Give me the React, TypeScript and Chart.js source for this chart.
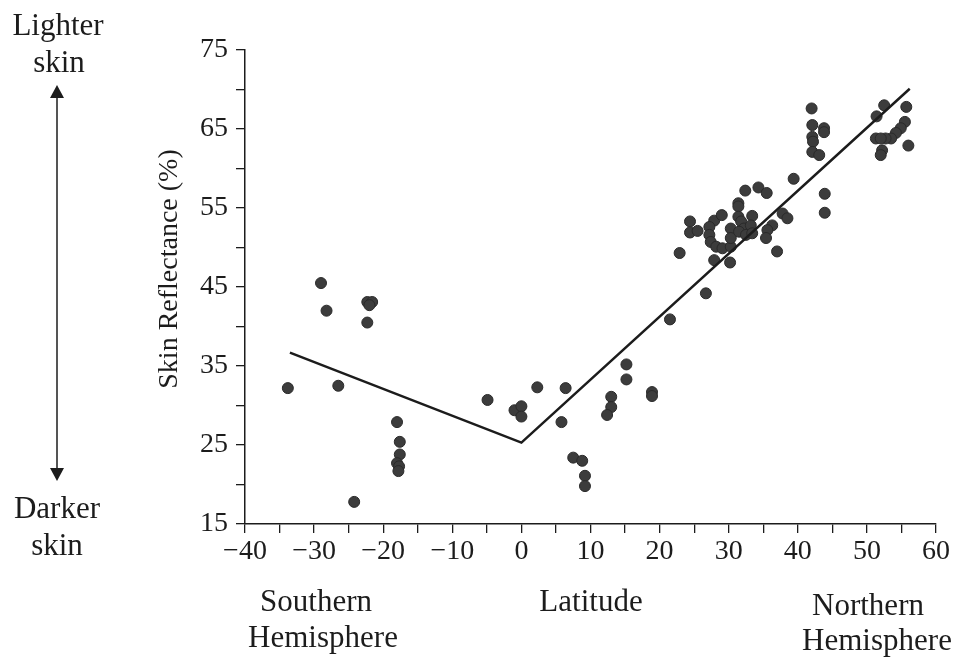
import { useEffect, useRef } from "react";
import { Chart, registerables } from "chart.js";

Chart.register(...registerables);

// Observed populations: latitude (degrees, negative = south) and skin reflectance (%)
const latitudes = [
  -29.0, -28.2, -22.3, -21.6, -22.0, -22.3, -33.8, -26.5, -18.0, -17.6,
  -17.6, -18.0, -17.7, -17.8, -24.2,
  -4.9, -1.0, 0.0, 0.0, 2.3, 6.4, 5.8, 7.5, 8.8, 9.2, 9.2, 15.2, 15.2,
  13.0, 13.0, 12.4, 18.9, 18.9,
  21.5, 26.7, 22.9, 24.4, 24.4, 25.5, 27.9, 27.2, 27.2, 27.4, 28.2, 29.1,
  30.3, 27.9, 30.2, 29.0, 31.4, 31.4, 31.4, 33.4, 32.4, 34.3, 35.5, 39.4,
  30.3, 30.3, 31.8, 32.2, 33.2, 31.5, 32.5, 33.4, 37.8, 38.5, 36.3, 35.6,
  35.4, 37.0,
  42.0, 42.1, 43.8, 43.8, 42.1, 42.2, 42.1, 43.1, 43.9, 43.9,
  52.5, 51.4, 55.7, 55.5, 54.9, 54.2, 53.5, 52.7, 51.3, 52.0, 52.2, 52.0,
  56.0,
];
const reflectance = [
  45.5, 42.0, 43.1, 43.1, 42.7, 40.5, 32.2, 32.5, 27.9, 25.4,
  23.8, 22.7, 22.3, 21.7, 17.8,
  30.7, 29.4, 29.9, 28.6, 32.3, 32.2, 27.9, 23.4, 23.0, 21.1, 19.8, 35.2, 33.3,
  31.1, 29.8, 28.8, 31.7, 31.2,
  40.9, 44.2, 49.3, 53.3, 51.9, 52.1, 53.4, 52.6, 51.6, 50.7, 50.1, 49.9,
  50.1, 48.4, 48.1, 54.1, 55.6, 55.2, 53.9, 54.0, 57.2, 57.6, 56.9, 58.7,
  52.4, 51.2, 53.3, 52.4, 52.8, 52.0, 51.6, 51.8, 54.3, 53.7, 52.8, 52.2,
  51.2, 49.5,
  67.6, 65.5, 65.1, 64.6, 64.0, 63.4, 62.1, 61.7, 56.8, 54.4,
  68.0, 66.6, 67.8, 65.9, 65.1, 64.5, 63.8, 63.8, 63.8, 63.8, 62.3, 61.7,
  62.9,
];

// Two-segment fitted trend (south branch, north branch meeting at the equator)
const fitLatitudes = [-33.5, 0, 56.2];
const fitReflectance = [36.7, 25.3, 70.1];

const xTickLabels = [-40, -30, -20, -10, 0, 10, 20, 30, 40, 50, 60];
const yTickLabels = [15, 25, 35, 45, 55, 65, 75];

const INK = "#1c1c1c";
const FONT = '"Liberation Serif", "Times New Roman", serif';

const fmtSigned = (v: number) => (v < 0 ? "\u2212" + Math.abs(v) : String(v));

const sideText = {
  id: "sideText",
  afterDraw(chart: any) {
    const ctx = chart.ctx as CanvasRenderingContext2D;
    const area = chart.chartArea;
    ctx.save();
    ctx.fillStyle = INK;
    ctx.strokeStyle = INK;
    ctx.textAlign = "center";
    ctx.textBaseline = "middle";

    // Y axis title
    ctx.font = `28px ${FONT}`;
    ctx.save();
    ctx.translate(170, 269);
    ctx.rotate(-Math.PI / 2);
    ctx.fillText("Skin Reflectance (%)", 0, 0);
    ctx.restore();

    // Left legend: lighter / darker with double arrow
    ctx.font = `31px ${FONT}`;
    ctx.fillText("Lighter", 58, 27);
    ctx.fillText("skin", 59, 64);
    ctx.fillText("Darker", 57, 510);
    ctx.fillText("skin", 57, 547);

    const ax = 57;
    const topTip = 85;
    const botTip = 481;
    ctx.lineWidth = 1.5;
    ctx.beginPath();
    ctx.moveTo(ax, topTip + 10);
    ctx.lineTo(ax, botTip - 10);
    ctx.stroke();
    ctx.beginPath();
    ctx.moveTo(ax, topTip);
    ctx.lineTo(ax - 7, topTip + 13);
    ctx.lineTo(ax + 7, topTip + 13);
    ctx.closePath();
    ctx.fill();
    ctx.beginPath();
    ctx.moveTo(ax, botTip);
    ctx.lineTo(ax - 7, botTip - 13);
    ctx.lineTo(ax + 7, botTip - 13);
    ctx.closePath();
    ctx.fill();

    // Bottom captions
    const base = area.bottom;
    ctx.fillText("Southern", 316, base + 79);
    ctx.fillText("Hemisphere", 323, base + 115);
    ctx.fillText("Latitude", 591, base + 79);
    ctx.fillText("Northern", 868, base + 83);
    ctx.fillText("Hemisphere", 877, base + 118);
    ctx.restore();
  },
};

export default function App() {
  const canvasRef = useRef<HTMLCanvasElement | null>(null);

  useEffect(() => {
    if (!canvasRef.current) return;
    const points = latitudes.map((x, i) => ({ x, y: reflectance[i] }));
    const fit = fitLatitudes.map((x, i) => ({ x, y: fitReflectance[i] }));

    const chart = new Chart(canvasRef.current, {
      type: "scatter",
      data: {
        datasets: [
          {
            type: "line",
            label: "Trend",
            data: fit,
            borderColor: INK,
            borderWidth: 2.5,
            pointRadius: 0,
            fill: false,
            tension: 0,
            order: 0,
          } as any,
          {
            label: "Populations",
            data: points,
            pointRadius: 5.5,
            backgroundColor: "#3c3c3c",
            borderColor: "#2a2a2a",
            borderWidth: 1,
            order: 1,
          },
        ],
      },
      options: {
        responsive: false,
        animation: false,
        devicePixelRatio: 1,
        layout: { padding: { top: 50, right: 20, left: 0, bottom: 0 } },
        plugins: {
          legend: { display: false },
          tooltip: { enabled: false },
        },
        scales: {
          x: {
            type: "linear",
            min: -40,
            max: 60,
            afterFit: (s: any) => {
              s.height = 135;
            },
            ticks: {
              stepSize: 5,
              autoSkip: false,
              maxRotation: 0,
              color: INK,
              font: { family: FONT, size: 28 },
              padding: 2,
              callback: (v: any) => (xTickLabels.includes(Number(v)) ? fmtSigned(Number(v)) : ""),
            },
            grid: {
              drawOnChartArea: false,
              drawTicks: true,
              tickLength: 9,
              color: INK,
              lineWidth: 1.3,
            },
            border: { display: true, color: INK, width: 1.5 },
          },
          y: {
            type: "linear",
            min: 15,
            max: 75,
            afterFit: (s: any) => {
              s.width = 245;
            },
            ticks: {
              stepSize: 5,
              autoSkip: false,
              color: INK,
              font: { family: FONT, size: 28 },
              padding: 8,
              callback: (v: any) => (yTickLabels.includes(Number(v)) ? String(v) : ""),
            },
            grid: {
              drawOnChartArea: false,
              drawTicks: true,
              tickLength: 9,
              color: INK,
              lineWidth: 1.3,
            },
            border: { display: true, color: INK, width: 1.5 },
          },
        },
      },
      plugins: [sideText],
    });

    return () => chart.destroy();
  }, []);

  return (
    <div style={{ position: "absolute", left: 0, top: 0, width: 956, height: 659, background: "#fff" }}>
      <canvas ref={canvasRef} width={956} height={659} style={{ display: "block" }} />
    </div>
  );
}
